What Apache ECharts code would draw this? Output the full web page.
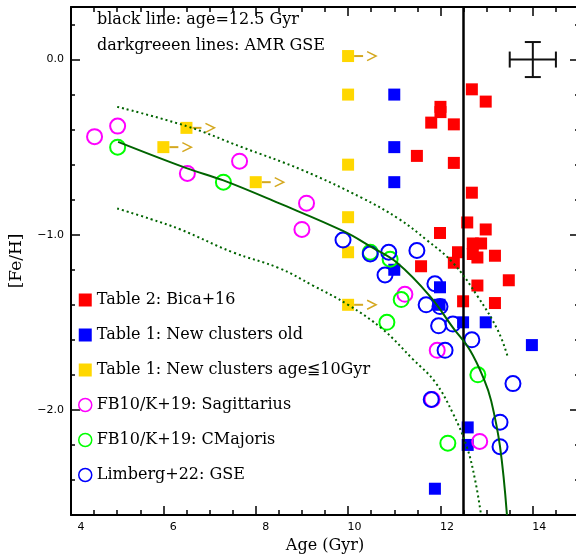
<!DOCTYPE html>
<html>
<head>
<meta charset="utf-8">
<script src="https://cdn.jsdelivr.net/npm/echarts@6/dist/echarts.min.js"></script>
<style>
    html, body { margin: 0; padding: 0; background: #fff; overflow: hidden; }
    /* the frame's right edge sits just outside the 576px window, as in the original */
    #main { width: 579px; height: 560px; }
</style>
</head>
<body>
<div id="main"></div>
<script>
    // Table 2: Bica+16
    const bicaAge = [12.68, 12.98, 12.0, 12.0, 11.8, 12.29, 11.49, 12.29, 12.68, 12.58, 12.98, 11.99,
                     12.7, 12.88, 12.38, 12.7, 12.8, 13.18, 11.58, 12.29, 12.8, 13.48, 12.49, 13.18];
    const bicaFe = [-0.17, -0.24, -0.27, -0.30, -0.36, -0.37, -0.55, -0.59, -0.76, -0.93, -0.97, -0.99,
                    -1.05, -1.05, -1.10, -1.11, -1.13, -1.12, -1.18, -1.16, -1.29, -1.26, -1.38, -1.39];
    // Table 1: new clusters, old
    const oldAge = [11.0, 11.0, 11.0, 11.0, 11.99, 11.98, 12.49, 12.98, 13.98, 12.59, 12.59, 11.88];
    const oldFe = [-0.20, -0.50, -0.70, -1.20, -1.30, -1.40, -1.50, -1.50, -1.63, -2.10, -2.20, -2.45];
    // Table 1: new clusters, age <= 10 Gyr
    const youngAge = [10.0, 10.0, 10.0, 10.0, 10.0, 10.0, 6.5, 6.0, 8.0];
    const youngFe = [0.02, -0.20, -0.60, -0.90, -1.10, -1.40, -0.39, -0.50, -0.70];
    // the ones that are lower limits in age (arrow to the right)
    const limitAge = [10.0, 10.0, 6.5, 6.0, 8.0];
    const limitFe = [0.02, -1.40, -0.39, -0.50, -0.70];
    // FB10/K+19
    const sgrAge = [4.51, 5.01, 6.52, 7.65, 9.1, 9.0, 11.23, 11.93, 11.82, 12.85];
    const sgrFe = [-0.44, -0.38, -0.65, -0.58, -0.82, -0.97, -1.34, -1.66, -1.94, -2.18];
    const cmaAge = [5.01, 7.3, 10.48, 10.91, 11.15, 10.84, 12.81, 12.16];
    const cmaFe = [-0.50, -0.70, -1.10, -1.14, -1.37, -1.50, -1.80, -2.19];
    // Limberg+22
    const gseAge = [9.89, 10.48, 10.88, 11.49, 10.8, 11.88, 11.69, 11.99, 11.96, 12.27, 12.68, 12.1, 13.57, 11.8, 13.29, 13.29];
    const gseFe = [-1.03, -1.11, -1.10, -1.09, -1.23, -1.28, -1.40, -1.41, -1.52, -1.51, -1.60, -1.66, -1.85, -1.94, -2.07, -2.21];

    // AMR GSE curves
    const amrAge = [5.02, 6.5, 7.3, 8.5, 9.9, 10.5, 11.06, 11.77, 12.27, 12.64, 12.95, 13.1, 13.29, 13.44];
    const amrFe = [-0.47, -0.62, -0.69, -0.82, -0.98, -1.07, -1.16, -1.35, -1.53, -1.66, -1.83, -1.95, -2.21, -2.6];
    const amrHiAge = [5.0, 6.5, 7.7, 9.0, 10.3, 11.1, 11.7, 12.27, 12.8, 13.25, 13.46];
    const amrHiFe = [-0.27, -0.38, -0.50, -0.63, -0.79, -0.91, -1.03, -1.16, -1.35, -1.55, -1.70];
    const amrLoAge = [5.0, 5.72, 6.37, 7.5, 8.5, 9.24, 10.0, 10.75, 11.4, 11.88, 12.27, 12.57, 12.75, 12.88];
    const amrLoFe = [-0.85, -0.91, -0.97, -1.10, -1.19, -1.29, -1.40, -1.54, -1.71, -1.84, -2.02, -2.21, -2.40, -2.60];

    const ageLine = 12.5;
    // typical error bar
    const errAge = [14.0];
    const errFe = [0.0];
    const errDx = 0.5;
    const errDy = 0.1;

    const xTicks = [4, 6, 8, 10, 12, 14];
    const yTicks = [-2, -1, 0];

    const zip = (a, b) => a.map((v, i) => [v, b[i]]);
    const serif = 'DejaVu Serif';
    const sans = 'DejaVu Sans';
    const darkGreen = '#006400';
    const arrowColor = '#d4a820';

    function squares(name, color, age, fe) {
        return {
            name: name, type: 'scatter', symbol: 'rect', symbolSize: 12,
            itemStyle: {color: color, opacity: 1},
            data: zip(age, fe), z: 3
        };
    }
    function rings(name, color, age, fe) {
        return {
            name: name, type: 'scatter', symbol: 'circle', symbolSize: 15,
            itemStyle: {color: 'transparent', borderColor: color, borderWidth: 2, opacity: 1},
            data: zip(age, fe), z: 4
        };
    }
    function curve(age, fe, dotted) {
        return {
            type: 'line', data: zip(age, fe), showSymbol: false, smooth: 0.4,
            lineStyle: {color: darkGreen, width: 2, type: dotted ? [2, 3] : 'solid'},
            silent: true, z: 5
        };
    }

    const xBase = {type: 'value', min: 4, max: 15, splitLine: {show: false}};
    const yBase = {type: 'value', min: -2.6, max: 0.3, splitLine: {show: false}};
    const axisLineStyle = {show: true, onZero: false, lineStyle: {color: '#000', width: 2}};
    const noLine = {show: false, onZero: false};
    const tickStyle = {color: '#000', width: 1.5};

    let chart = echarts.init(document.getElementById('main'));
    chart.setOption({
        animation: false,
        grid: {left: 70, right: 0, top: 7, bottom: 45},
        xAxis: [
            Object.assign({}, xBase, {
                position: 'bottom', interval: 2,
                axisLine: axisLineStyle,
                axisTick: {inside: true, length: 9, lineStyle: tickStyle},
                axisLabel: {
                    customValues: xTicks, margin: 7, color: '#000',
                    fontFamily: sans, fontSize: 11,
                    formatter: v => '{a|' + v + '}',
                    rich: {a: {width: 27, align: 'right', fontFamily: sans, fontSize: 11, color: '#000'}}
                },
                name: 'Age (Gyr)', nameLocation: 'middle', nameGap: 23,
                nameTextStyle: {fontFamily: serif, fontSize: 16, color: '#000'}
            }),
            Object.assign({}, xBase, {
                position: 'bottom', interval: 0.5,
                axisLine: noLine,
                axisTick: {inside: true, length: 5, lineStyle: tickStyle},
                axisLabel: {show: false}
            }),
            Object.assign({}, xBase, {
                position: 'top', interval: 2,
                axisLine: axisLineStyle,
                axisTick: {inside: true, length: 9, lineStyle: tickStyle},
                axisLabel: {show: false}
            }),
            Object.assign({}, xBase, {
                position: 'top', interval: 0.5,
                axisLine: noLine,
                axisTick: {inside: true, length: 5, lineStyle: tickStyle},
                axisLabel: {show: false}
            })
        ],
        yAxis: [
            Object.assign({}, yBase, {
                position: 'left',
                axisLine: axisLineStyle,
                axisTick: {inside: true, length: 9, customValues: yTicks, lineStyle: tickStyle},
                axisLabel: {
                    customValues: yTicks, margin: 7, color: '#000',
                    fontFamily: sans, fontSize: 11,
                    formatter: v => v.toFixed(1).replace('-', '\u2212')
                },
                name: '[Fe/H]', nameLocation: 'middle', nameGap: 46, nameRotate: 90,
                nameTextStyle: {fontFamily: serif, fontSize: 17, color: '#000'}
            }),
            Object.assign({}, yBase, {
                position: 'left', interval: 0.2,
                axisLine: noLine,
                axisTick: {inside: true, length: 4, lineStyle: tickStyle},
                axisLabel: {show: false}
            }),
            Object.assign({}, yBase, {
                position: 'right',
                axisLine: axisLineStyle,
                axisTick: {inside: true, length: 9, customValues: yTicks, lineStyle: tickStyle},
                axisLabel: {show: false}
            }),
            Object.assign({}, yBase, {
                position: 'right', interval: 0.2,
                axisLine: noLine,
                axisTick: {inside: true, length: 4, lineStyle: tickStyle},
                axisLabel: {show: false}
            })
        ],
        legend: {
            orient: 'vertical', left: 78, top: 292, padding: 0,
            itemWidth: 13, itemHeight: 13, itemGap: 19,
            textStyle: {fontFamily: serif, fontSize: 16, color: '#000', lineHeight: 13},
            data: [
                {name: 'Table 2: Bica+16', icon: 'rect'},
                {name: 'Table 1: New clusters old', icon: 'rect'},
                {name: 'Table 1: New clusters age\u226610Gyr', icon: 'rect'},
                {name: 'FB10/K+19: Sagittarius', icon: 'circle',
                    itemStyle: {color: 'transparent', borderColor: '#ff00ff', borderWidth: 1.5}},
                {name: 'FB10/K+19: CMajoris', icon: 'circle',
                    itemStyle: {color: 'transparent', borderColor: '#00ff00', borderWidth: 1.5}},
                {name: 'Limberg+22: GSE', icon: 'circle',
                    itemStyle: {color: 'transparent', borderColor: '#0000ff', borderWidth: 1.5}}
            ]
        },
        graphic: [
            {type: 'text', left: 97, top: 12, style: {text: 'black line: age=12.5 Gyr', font: '16px "DejaVu Serif"', fill: '#000'}},
            {type: 'text', left: 97, top: 38, style: {text: 'darkgreeen lines: AMR GSE', font: '16px "DejaVu Serif"', fill: '#000'}}
        ],
        series: [
            squares('Table 2: Bica+16', '#ff0000', bicaAge, bicaFe),
            squares('Table 1: New clusters old', '#0000ff', oldAge, oldFe),
            squares('Table 1: New clusters age\u226610Gyr', '#ffd700', youngAge, youngFe),
            {
                type: 'custom', silent: true, z: 3,
                data: zip(limitAge, limitFe),
                renderItem: function (params, api) {
                    let p = api.coord([api.value(0), api.value(1)]);
                    return {
                        type: 'group',
                        children: [
                            {type: 'line', shape: {x1: p[0] + 6, y1: p[1], x2: p[0] + 15, y2: p[1]},
                                style: {stroke: arrowColor, lineWidth: 2}},
                            {type: 'polyline', shape: {points: [[p[0] + 19, p[1] - 4.5], [p[0] + 28, p[1]], [p[0] + 19, p[1] + 4.5]]},
                                style: {stroke: arrowColor, lineWidth: 1.5, fill: null}}
                        ]
                    };
                }
            },
            rings('FB10/K+19: Sagittarius', '#ff00ff', sgrAge, sgrFe),
            rings('FB10/K+19: CMajoris', '#00ff00', cmaAge, cmaFe),
            rings('Limberg+22: GSE', '#0000ff', gseAge, gseFe),
            Object.assign(curve(amrAge, amrFe, false), {
                markLine: {
                    symbol: 'none', silent: true, label: {show: false},
                    lineStyle: {color: '#000', width: 2.5, type: 'solid'},
                    data: [{xAxis: ageLine}]
                }
            }),
            curve(amrHiAge, amrHiFe, true),
            curve(amrLoAge, amrLoFe, true),
            {
                type: 'custom', silent: true, z: 6,
                data: errAge.map((a, i) => [a, errFe[i]]),
                renderItem: function (params, api) {
                    let x = api.value(0), y = api.value(1);
                    let l = api.coord([x - errDx, y]), r = api.coord([x + errDx, y]);
                    let t = api.coord([x, y + errDy]), b = api.coord([x, y - errDy]);
                    let s = {stroke: '#111', lineWidth: 2};
                    let cap = 8;
                    return {
                        type: 'group',
                        children: [
                            {type: 'line', shape: {x1: l[0], y1: l[1], x2: r[0], y2: r[1]}, style: s},
                            {type: 'line', shape: {x1: t[0], y1: t[1], x2: b[0], y2: b[1]}, style: s},
                            {type: 'line', shape: {x1: l[0], y1: l[1] - cap, x2: l[0], y2: l[1] + cap}, style: s},
                            {type: 'line', shape: {x1: r[0], y1: r[1] - cap, x2: r[0], y2: r[1] + cap}, style: s},
                            {type: 'line', shape: {x1: t[0] - cap, y1: t[1], x2: t[0] + cap, y2: t[1]}, style: s},
                            {type: 'line', shape: {x1: b[0] - cap, y1: b[1], x2: b[0] + cap, y2: b[1]}, style: s}
                        ]
                    };
                }
            }
        ]
    });
</script>
</body>
</html>
